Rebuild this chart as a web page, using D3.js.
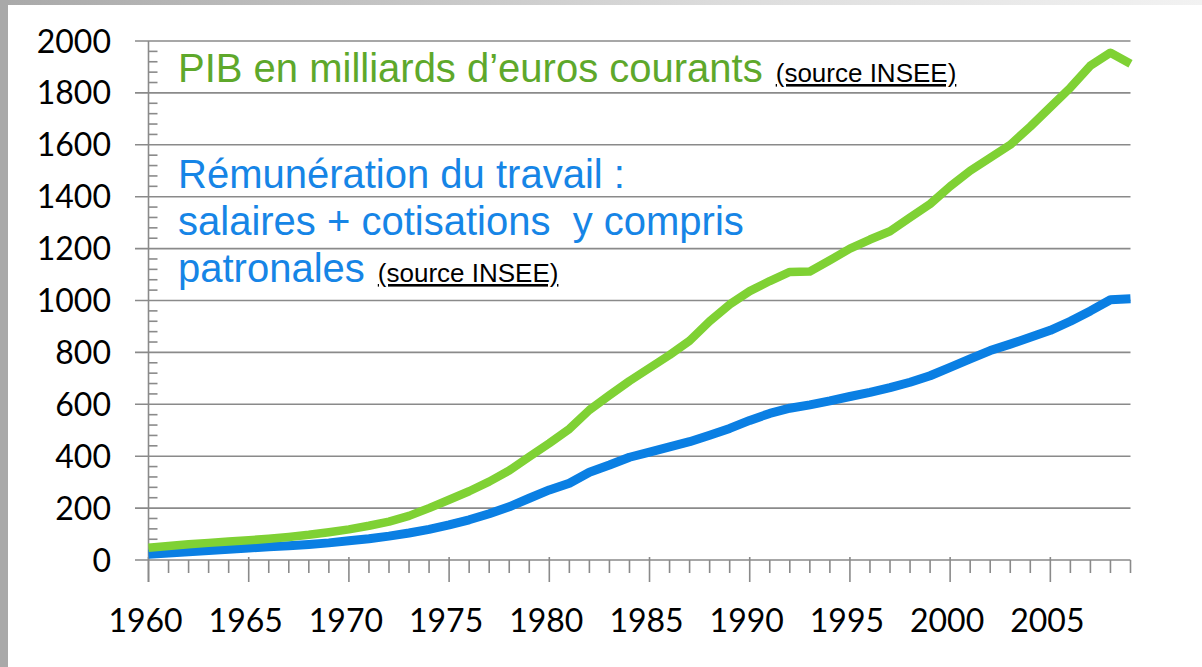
<!DOCTYPE html>
<html>
<head>
<meta charset="utf-8">
<script src="https://cdn.jsdelivr.net/npm/d3@7"></script>
<style>
  body { margin: 0; background: #fff; }
  svg { display: block; }
</style>
</head>
<body>
<svg width="1202" height="667"></svg>
<script>
// years on the x axis
const years = d3.range(1960, 2010);

// PIB, milliards d'euros courants
const pib = [47, 54, 61, 66, 71, 76, 82, 89, 97, 107,
  118, 132, 148, 170, 200, 232, 265, 302, 345, 398,
  450, 505, 578, 635, 690, 740, 790, 845, 920, 985,
  1036, 1075, 1110, 1112, 1155, 1200, 1235, 1267, 1320, 1372,
  1440, 1500, 1550, 1600, 1670, 1745, 1820, 1905, 1955, 1912];

// rémunération du travail (salaires + cotisations)
const remu = [22, 27, 32, 37, 41, 46, 51, 55, 60, 66,
  74, 82, 92, 104, 118, 135, 155, 178, 205, 238,
  270, 296, 338, 366, 396, 416, 436, 456, 481, 507,
  538, 565, 585, 598, 613, 630, 646, 664, 685, 710,
  742, 775, 807, 832, 858, 885, 920, 960, 1003, 1007];

const yTicks = d3.range(0, 2001, 200);
const xLabels = [1960, 1965, 1970, 1975, 1980, 1985, 1990, 1995, 2000, 2005];

const svg = d3.select("svg"),
    width = +svg.attr("width"),
    height = +svg.attr("height");

// grey frame (left + top)
const defs = svg.append("defs");
const grad = defs.append("linearGradient").attr("id", "topgrad");
grad.append("stop").attr("offset", "0%").attr("stop-color", "#a9a9a9");
grad.append("stop").attr("offset", "60%").attr("stop-color", "#dcdcdc");
grad.append("stop").attr("offset", "100%").attr("stop-color", "#f2f2f2");
svg.append("rect").attr("x", 0).attr("y", 0).attr("width", width).attr("height", 5)
    .attr("fill", "url(#topgrad)");
svg.append("rect").attr("x", 0).attr("y", 0).attr("width", 8).attr("height", height)
    .attr("fill", "#a9a9a9");

const x = d3.scaleLinear().domain([1960, 2009]).range([148.5, 1130.5]);
const y = d3.scaleLinear().domain([0, 2000]).range([560, 41]);

const axisColor = "#8a8a8a";

// horizontal gridlines + outward ticks
svg.append("g")
    .selectAll("line")
    .data(yTicks)
    .enter().append("line")
    .attr("x1", 135)
    .attr("x2", x(2009))
    .attr("y1", d => y(d))
    .attr("y2", d => y(d))
    .attr("stroke", axisColor)
    .attr("stroke-width", 1.6);

// minor y ticks (inside)
svg.append("g")
    .selectAll("line")
    .data(d3.range(40, 2000, 40).filter(d => d % 200 !== 0))
    .enter().append("line")
    .attr("x1", x(1960))
    .attr("x2", x(1960) + 9)
    .attr("y1", d => y(d))
    .attr("y2", d => y(d))
    .attr("stroke", axisColor)
    .attr("stroke-width", 1.6);

// y axis line
svg.append("line")
    .attr("x1", x(1960)).attr("x2", x(1960))
    .attr("y1", y(2000)).attr("y2", 582)
    .attr("stroke", axisColor).attr("stroke-width", 1.6);

// x ticks
svg.append("g")
    .selectAll("line")
    .data(years)
    .enter().append("line")
    .attr("x1", d => x(d))
    .attr("x2", d => x(d))
    .attr("y1", d => d % 5 === 0 ? 557 : 560)
    .attr("y2", d => d % 5 === 0 ? 582 : 573)
    .attr("stroke", axisColor)
    .attr("stroke-width", 1.6);

// y labels
svg.append("g")
    .selectAll("text")
    .data(yTicks)
    .enter().append("text")
    .attr("x", 111)
    .attr("y", d => y(d))
    .attr("dy", "0.36em")
    .attr("text-anchor", "end")
    .style("font-family", "Lato, sans-serif")
    .style("font-size", "32px")
    .text(d => d);

// x labels
svg.append("g")
    .selectAll("text")
    .data(xLabels)
    .enter().append("text")
    .attr("x", d => x(d) - 3)
    .attr("y", 632)
    .attr("text-anchor", "middle")
    .style("font-family", "Lato, sans-serif")
    .style("font-size", "32px")
    .text(d => d);

// lines
const line = d3.line()
    .x((d, i) => x(years[i]))
    .y(d => y(d));

svg.append("path")
    .datum(remu)
    .attr("d", line)
    .attr("fill", "none")
    .attr("stroke", "#0a7fe3")
    .attr("stroke-width", 9)
    .attr("stroke-linejoin", "round");

svg.append("path")
    .datum(pib)
    .attr("d", line)
    .attr("fill", "none")
    .attr("stroke", "#7fd134")
    .attr("stroke-width", 8.5)
    .attr("stroke-linejoin", "round");

// annotations
const font = "'Liberation Sans', Arial, sans-serif";

function label(tx, ty, txt, color, src) {
  const t = svg.append("text")
      .attr("x", tx)
      .attr("y", ty)
      .style("font-family", font)
      .style("font-size", "40px")
      .attr("fill", color);
  t.append("tspan").text(txt);
  if (src) {
    t.append("tspan")
        .attr("dx", 13)
        .attr("fill", "#000")
        .style("font-size", "26px")
        .style("text-decoration", "underline")
        .text("(source INSEE)");
  }
}

label(178, 82, "PIB en milliards d\u2019euros courants", "#5ea82b", true);
label(178, 188, "R\u00e9mun\u00e9ration du travail :", "#1685e6", false);
label(178, 235, "salaires + cotisations\u00a0 y compris", "#1685e6", false);
label(178, 282, "patronales", "#1685e6", true);
</script>
</body>
</html>
